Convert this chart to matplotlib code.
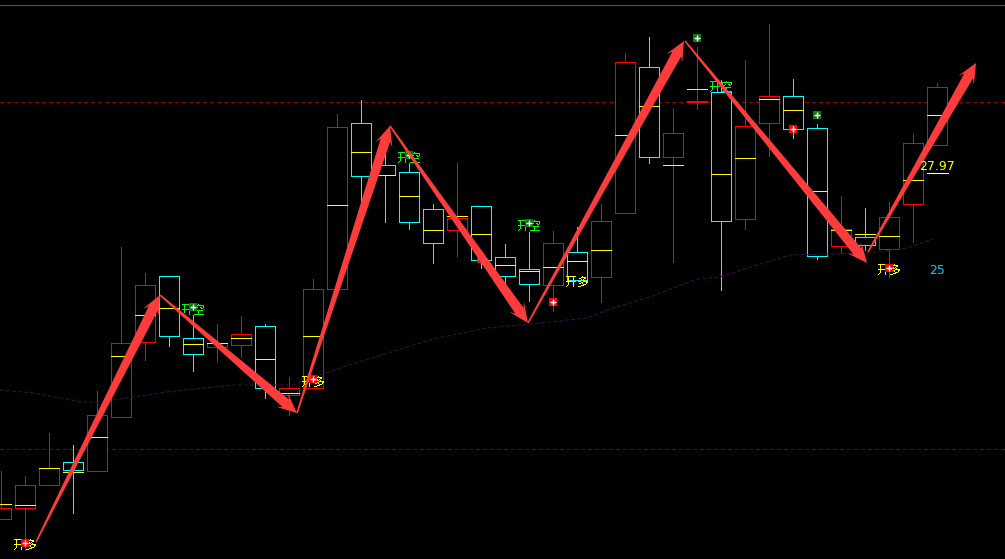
import matplotlib
matplotlib.use('Agg')
import matplotlib.pyplot as plt
import numpy as np
from matplotlib.patches import Rectangle, Polygon

plt.rcParams['font.family'] = ['Noto Sans CJK SC', 'DejaVu Sans']

# candele (scala verticale = riga dello schermo)
colors = ['r', 'r', 'r', 'c', 'r', 'r', 'r', 'c', 'c', 'r', 'r', 'c', 'r', 'r',
          'r', 'c', 'c', 'c', 'c', 'r', 'c', 'c', 'c', 'r', 'c', 'r',
          'r', 'c', 'r', 'r', 'c', 'r', 'r', 'c', 'c', 'r', 'c', 'r', 'r', 'r']
highs = [471, 476, 433, 445, 391, 247, 273, 276, 315, 324, 316, 324, 377, 279,
         114, 100, 150, 163, 204, 163, 206, 244, 232, 231, 227, 204,
         53, 37, 108, 47, 80, 60, 24, 79, 124, 196, 208, 202, 134, 83]
lows = [519, 550, 485, 513, 471, 417, 360, 346, 371, 361, 357, 398, 415, 388,
        289, 202, 222, 229, 263, 256, 268, 285, 301, 311, 280, 302,
        213, 163, 262, 109, 290, 229, 156, 138, 259, 253, 250, 277, 242, 145]
body_tops = [508, 485, 468, 462, 415, 343, 285, 276, 338, 343, 334, 326, 388, 289,
             127, 123, 165, 172, 209, 218, 206, 257, 269, 243, 252, 221,
             62, 67, 133, 101, 92, 126, 96, 96, 128, 229, 237, 217, 143, 87]
body_bottoms = [519, 508, 485, 470, 471, 417, 342, 336, 354, 347, 345, 388, 395, 388,
                289, 176, 175, 222, 243, 230, 260, 276, 284, 285, 280, 277,
                213, 157, 157, 102, 221, 219, 123, 129, 256, 246, 245, 249, 204, 145]
mids = [504, 505, 468, 472, 437, 356, 315, 308, 344, 343, 338, 359, 393, 336,
        205, 152, 175, 196, 230, 216, 234, 265, 271, 267, 261, 250,
        135, 106, 165, 89, 174, 158, 99, 110, 191, 230, 234, 236, 180, 115]

ma_x = [0, 33, 83, 100, 133, 167, 233, 293, 340, 433, 487, 530, 587, 613, 650, 697, 720, 757, 790, 833, 867, 907, 933]
ma_y = [390, 393, 402, 402, 397, 392, 385, 385, 368, 339, 328, 324, 318, 308, 297, 279, 277, 265, 255, 254, 253, 248, 239]

# frecce: coda e punta
arrow_tail_x = [36, 160, 297, 390, 528, 685, 868]
arrow_tail_y = [542, 295, 413, 126, 323, 41, 252]
arrow_tip_x = [160, 297, 390, 528, 684, 867, 976]
arrow_tip_y = [295, 413, 126, 323, 41, 263, 63]

long_x = [25, 313, 577, 889]
long_y = [545, 382, 282, 270]
short_x = [193, 409, 529, 721]
short_y = [310, 158, 226, 87]
red_x = [25, 313, 553, 481, 793, 889]
red_y = [543, 379, 302, 259, 129, 268]
green_x = [193, 409, 529, 697, 817]
green_y = [307, 155, 223, 38, 115]

dash_levels = [102, 449]

W, H = 1005, 559
fig = plt.figure(figsize=(W / 100, H / 100), dpi=100, facecolor='black')
ax = fig.add_axes([0, 0, 1, 1], facecolor='black')
ax.set_xlim(0, W)
ax.set_ylim(H, 0)
ax.axis('off')

LW = 0.72
col = {'r': '#ff0000', 'c': '#00ffff'}

ax.axhline(5, color='#555555', lw=LW, aa=False)
for lev in dash_levels:
    ax.axhline(lev, color='#8b0000', lw=LW, ls=(0, (4, 3)), aa=False)

for i in range(len(colors)):
    x = 1 + 24 * i
    c = col[colors[i]]
    ax.plot([x, x], [highs[i], lows[i]], color=c, lw=LW, aa=False, zorder=2)
    ax.add_patch(Rectangle((x - 10, body_tops[i]), 20, body_bottoms[i] - body_tops[i],
                           fc='black', ec=c, lw=LW, aa=False, zorder=3))
    ax.plot([x - 10, x + 10], [mids[i], mids[i]], color='#ffff00', lw=LW, aa=False, zorder=4)

ax.plot(ma_x, ma_y, color='#3d0f47', lw=LW, ls=(0, (4, 2)), zorder=5)

for x, y in zip(long_x, long_y):
    ax.text(x, y, '开多', color='#ffff00', fontsize=8.6, ha='center', va='center', zorder=6, antialiased=False)
for x, y in zip(short_x, short_y):
    ax.text(x, y, '开空', color='#00ff00', fontsize=8.6, ha='center', va='center', zorder=6, antialiased=False)

ax.scatter(red_x, red_y, marker='s', s=30, color='#ff0000', lw=0, zorder=7)
ax.scatter(green_x, green_y, marker='s', s=30, color='#0a7a0a', lw=0, zorder=7)
ax.scatter(red_x + green_x, red_y + green_y, marker='+', s=16, color='white', lw=1.0, zorder=8)


def draw_arrow(x0, y0, x1, y1):
    d = np.array([x1 - x0, y1 - y0], dtype=float)
    n = np.hypot(*d)
    u = d / n
    p = np.array([-u[1], u[0]])
    a, b = np.array([x0, y0]), np.array([x1, y1])
    neck = b - u * 15
    barb = b - u * 20
    pts = [a + p * 0.8, neck + p * 5, barb + p * 9, b, barb - p * 9, neck - p * 5, a - p * 0.8]
    ax.add_patch(Polygon(pts, closed=True, fc='#ff3c3c', ec='none', zorder=9))


for k in range(len(arrow_tail_x)):
    draw_arrow(arrow_tail_x[k], arrow_tail_y[k], arrow_tip_x[k], arrow_tip_y[k])

ax.plot([927, 948], [173, 173], color='white', lw=LW, aa=False, zorder=10)
ax.text(937, 167, '27.97', color='#ffff00', fontsize=9, family='DejaVu Sans', ha='center', va='center', zorder=11)
ax.text(937, 270, '25', color='#00ccff', fontsize=9, family='DejaVu Sans', ha='center', va='center', zorder=11)

fig.savefig('out.png', dpi=100, facecolor='black')
